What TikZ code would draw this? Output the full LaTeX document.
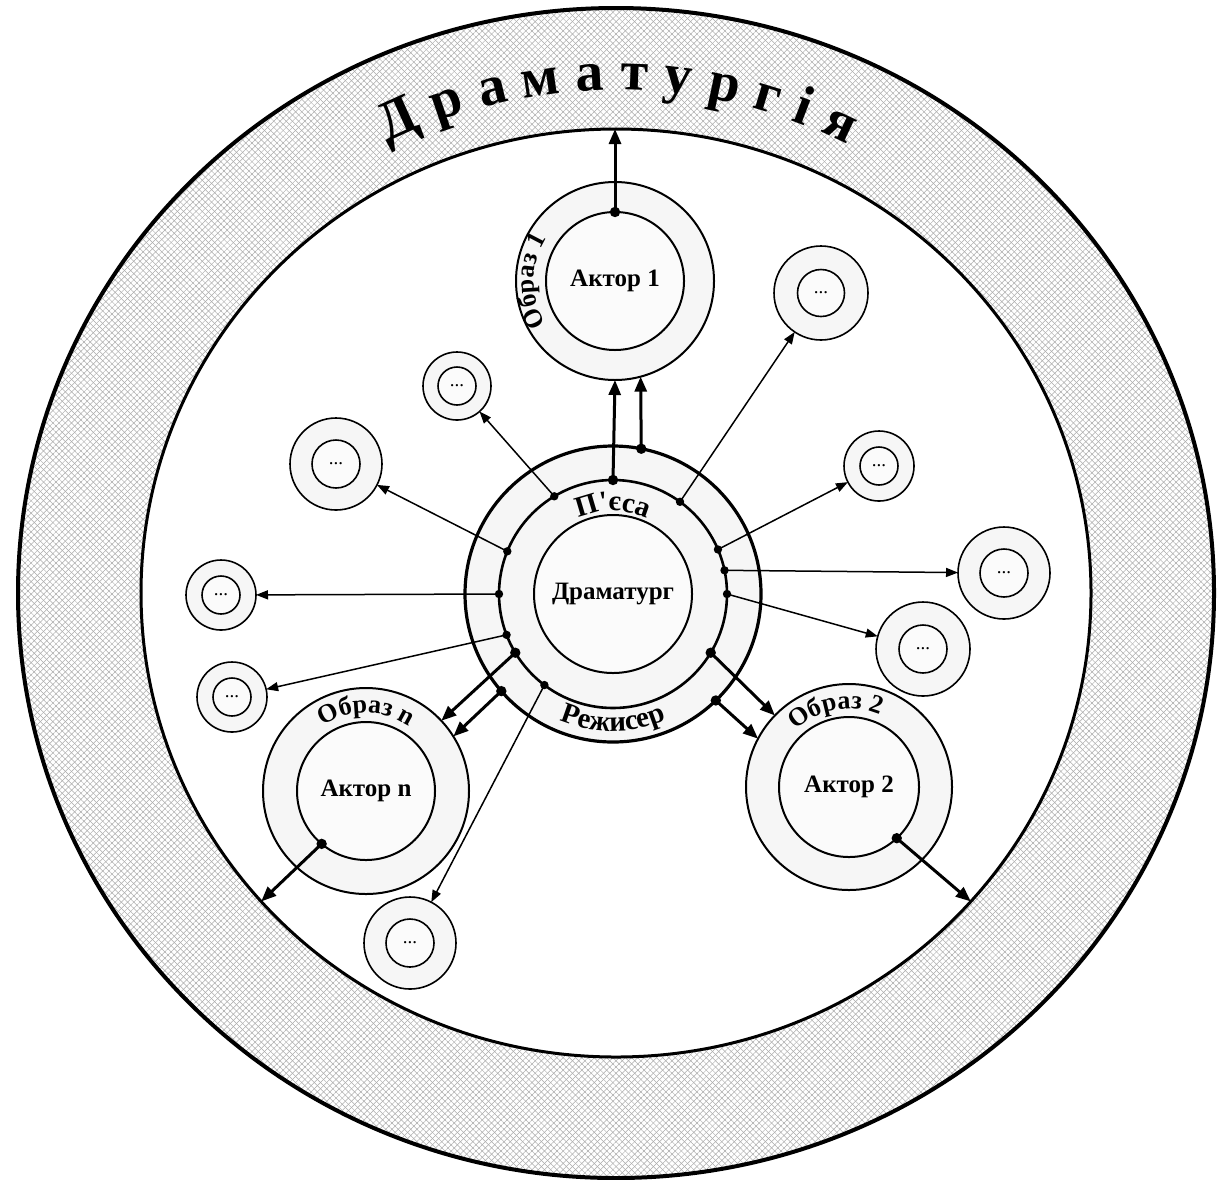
\documentclass[tikz,border=0pt]{standalone}
\usepackage{fontspec}
\setmainfont{Liberation Serif}
\usetikzlibrary{shapes.geometric,patterns.meta,decorations.text,arrows.meta,calc}
\newcommand\mylbl{\bfseries\fontsize{13}{15}\selectfont}
\newcommand\mybig{\bfseries\fontsize{14.5}{17}\selectfont}
\newcommand\myact{\bfseries\fontsize{12.5}{15}\selectfont}
\newcommand\mytitle{\bfseries\fontsize{28}{31}\selectfont}
\begin{document}
\begin{tikzpicture}[x=0.5pt,y=0.5pt,
  band/.style={circle,draw,fill=gray!7,inner sep=0pt,outer sep=0pt},
  core/.style={circle,draw,fill=gray!3,inner sep=0pt,outer sep=0pt,line width=1pt,font=\myact},
  small/.style={circle,draw,fill=gray!7,inner sep=0pt,outer sep=0pt,line width=0.8pt},
  smallin/.style={circle,draw,fill=gray!3,inner sep=0pt,outer sep=0pt,line width=0.8pt,font=\fontsize{9.5}{10}\selectfont},
  thin/.style={line width=0.75pt,-{Triangle[length=6pt,width=4.5pt]}},
  thick/.style={line width=1.5pt,-{Triangle[length=7.5pt,width=6pt]}},
  ttl/.style={font=\mytitle,inner sep=0pt,anchor=base}]
\useasboundingbox (0,0) rectangle (1218,-1179);
\fill[white] (0,0) rectangle (1218,-1179);
\coordinate (BC) at (616,-593);
\fill[pattern={Lines[angle=45,distance=2.2pt,line width=0.25pt]},pattern color=gray!65,even odd rule]
  (BC) circle[x radius=598,y radius=585] (BC) circle[x radius=475,y radius=464];
\fill[pattern={Lines[angle=-45,distance=2.2pt,line width=0.25pt]},pattern color=gray!65,even odd rule]
  (BC) circle[x radius=598,y radius=585] (BC) circle[x radius=475,y radius=464];
\node[draw,ellipse,line width=2pt,minimum width=598pt,minimum height=585pt,inner sep=0pt,outer sep=0pt] (outer) at (BC) {};
\node[draw,ellipse,line width=1.5pt,minimum width=475pt,minimum height=464pt,inner sep=0pt,outer sep=0pt] (world) at (BC) {};

% title
\foreach \a/\l [count=\k] in {114.4/Д,108.8/р,103.6/а,98.3/м,92.9/а,88.0/т,83.2/у,78.1/р,73.2/г,69.2/і,64.8/я}
  \node[ttl,rotate=\a-90] (t\k) at ($(BC)+(\a:512 and 503)$) {\l};

% central node
\node[band,line width=1.6pt,minimum size=148pt] (rezh) at (613,-594) {};
\node[band,line width=1.3pt,minimum size=114pt] (pesa) at (613,-594) {};
\node[core,minimum size=79pt] (dram) at (613,-594) {Драматург};

% actors
\node[band,line width=1pt,minimum size=99pt] (obr1) at (615,-281) {};
\node[core,minimum size=69pt] (akt1) at (615,-281) {Актор 1};
\node[band,line width=1pt,minimum size=103pt] (obr2) at (849,-787) {};
\node[core,minimum size=70pt] (akt2) at (849,-787) {Актор 2};
\node[band,line width=1pt,minimum size=103pt] (obrn) at (366,-791) {};
\node[core,minimum size=69pt] (aktn) at (366,-791) {Актор n};

% small nodes
\foreach \n/\x/\y/\o/\i in {A/457/386/34/19, B/336/464/46/24, C/221/595/35/19, D/232/697/35/19,
  E/410/943/46/24, F/821/293/47/23.5, G/879/466/35/19, H/1004/573/46/24, I/923/649/47/24}{
  \node[small,minimum size=\o pt] (\n) at (\x,-\y) {};
  \node[smallin,minimum size=\i pt] (\n-in) at (\x,-\y) {...};
}

% curved labels
\path[decorate,decoration={text along path,text={|\mylbl|Образ 1},text align=center}]
  (obr1.center) ++(235:81) arc[start angle=235,end angle=125,radius=81];
\path[decorate,decoration={text along path,text={|\mylbl|Образ n},text align=center}]
  (obrn.center) ++(145:78) arc[start angle=145,end angle=35,radius=78];
\path[decorate,decoration={text along path,text={|\mylbl|Образ 2},text align=center}]
  (obr2.center) ++(155:78) arc[start angle=155,end angle=45,radius=78];
\path[decorate,decoration={text along path,text={|\mybig|П{\textquotesingle}єса},text align=center}]
  (pesa.center) ++(130:83) arc[start angle=130,end angle=50,radius=83];
\path[decorate,decoration={text along path,text={|\mybig|Режисер},text align=center}]
  (rezh.center) ++(220:137) arc[start angle=220,end angle=320,radius=137];

% thin arrows
\foreach \ang/\t in {121/A, 54/F, 158/B, 23/G, 12/H, 180/C, 0/I, 201/D, 233/E}{
  \draw[thin] (pesa.\ang) -- (\t);
  \fill (pesa.\ang) circle[radius=2.1pt];
}

% thick arrows
\draw[thick] (pesa.90) -- (obr1.south);
\draw[thick] (rezh.79) -- (obr1.285);
\draw[thick] (pesa.211) -- (obrn.43);
\draw[thick] (rezh.221) -- (obrn.32);
\draw[thick] (pesa.329) -- (obr2.136);
\draw[thick] (rezh.314) -- (obr2.152);
\draw[thick] (akt1.north) -- (akt1.north |- world.north);
\draw[thick] (akt2.313) -- (world.319);
\draw[thick] (aktn.230) -- (world.221);
\foreach \p in {pesa.90, rezh.79, pesa.211, rezh.221, pesa.329, rezh.314, akt1.north, akt2.313, aktn.230}
  \fill (\p) circle[radius=2.6pt];
\end{tikzpicture}
\end{document}
